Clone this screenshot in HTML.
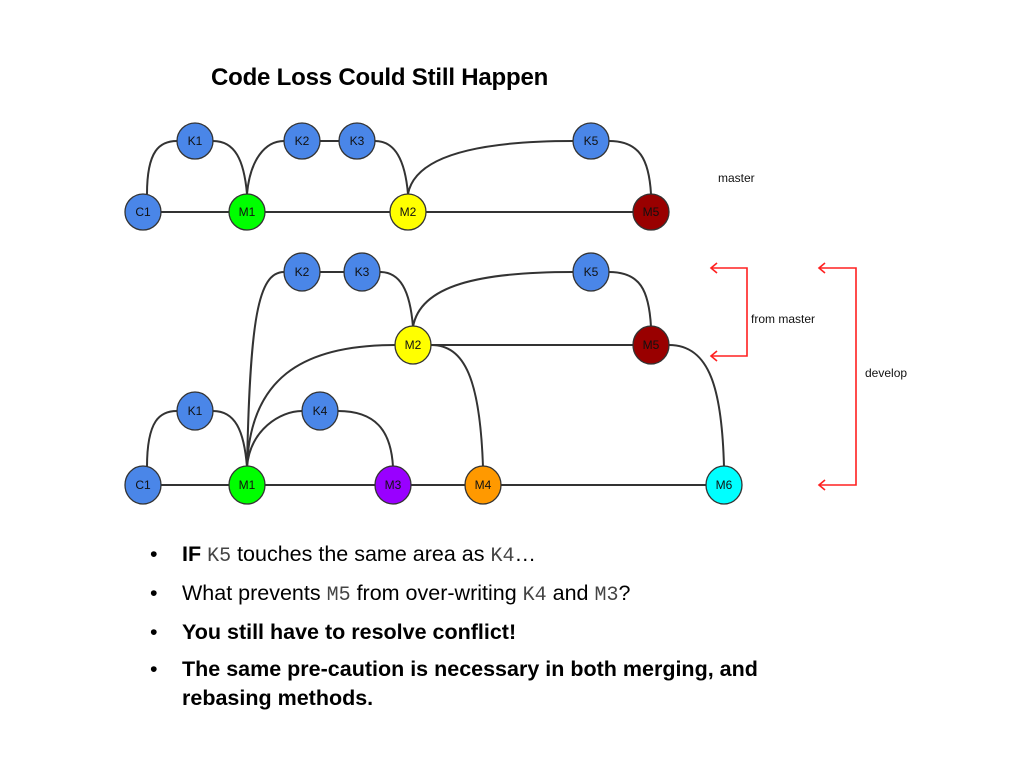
<!DOCTYPE html>
<html><head><style>
body{margin:0;width:1024px;height:768px;background:#fff;overflow:hidden;position:relative;font-family:"Liberation Sans",sans-serif}
.t{position:absolute;left:211px;top:64px;font-size:24px;font-weight:bold;letter-spacing:-0.2px}
ul{position:absolute;left:150px;top:540px;margin:0;padding:0;list-style:none;font-size:21.5px;color:#000}
li{position:relative;padding-left:32px;margin-bottom:8px;line-height:29px}
li:before{content:"•";position:absolute;left:0;top:0}
code{font-family:"Liberation Mono",monospace;color:#444;font-size:20px}
</style></head><body>
<div class="t">Code Loss Could Still Happen</div>
<svg width="1024" height="768" style="position:absolute;left:0;top:0" font-family="Liberation Sans, sans-serif" font-size="12">
<g fill="none" stroke="#333" stroke-width="2">
<line x1="143" y1="212" x2="651" y2="212"/>
<path d="M147,194 C147,150 160,141 177,141"/>
<path d="M213,141 C235,141 244,160 247,194"/>
<path d="M247,194 C250,160 265,141 284,141"/>
<line x1="320" y1="141" x2="339" y2="141"/>
<path d="M375,141 C395,141 405,160 408,194"/>
<path d="M408,194 C415,155 480,141 573,141"/>
<path d="M609,141 C640,141 649,160 651,194"/>
<line x1="143" y1="485" x2="724" y2="485"/>
<line x1="413" y1="345" x2="651" y2="345"/>
<path d="M147,467 C147,420 160,411 177,411"/>
<path d="M213,411 C235,411 244,430 247,467"/>
<path d="M247,467 C250,430 280,411 302,411"/>
<path d="M338,411 C375,411 391,430 393,467"/>
<path d="M247,467 C250,380 300,345 395,345"/>
<path d="M247,467 C250,320 258,272 284,272"/>
<line x1="320" y1="272" x2="344" y2="272"/>
<path d="M380,272 C400,272 410,290 413,327"/>
<path d="M413,327 C420,285 480,272 573,272"/>
<path d="M609,272 C640,272 649,290 651,327"/>
<path d="M431,345 C465,345 480,380 483,467"/>
<path d="M669,345 C710,345 722,390 724,467"/>
</g>
<g stroke="#333" stroke-width="1.3">
<circle cx="143" cy="212" r="18" fill="#4a86e8"/>
<circle cx="195" cy="141" r="18" fill="#4a86e8"/>
<circle cx="247" cy="212" r="18" fill="#00ff00"/>
<circle cx="302" cy="141" r="18" fill="#4a86e8"/>
<circle cx="357" cy="141" r="18" fill="#4a86e8"/>
<circle cx="408" cy="212" r="18" fill="#ffff00"/>
<circle cx="591" cy="141" r="18" fill="#4a86e8"/>
<circle cx="651" cy="212" r="18" fill="#990000"/>
<ellipse cx="302" cy="272" rx="18" ry="19" fill="#4a86e8"/>
<ellipse cx="362" cy="272" rx="18" ry="19" fill="#4a86e8"/>
<ellipse cx="591" cy="272" rx="18" ry="19" fill="#4a86e8"/>
<ellipse cx="413" cy="345" rx="18" ry="19" fill="#ffff00"/>
<ellipse cx="651" cy="345" rx="18" ry="19" fill="#990000"/>
<ellipse cx="195" cy="411" rx="18" ry="19" fill="#4a86e8"/>
<ellipse cx="320" cy="411" rx="18" ry="19" fill="#4a86e8"/>
<ellipse cx="143" cy="485" rx="18" ry="19" fill="#4a86e8"/>
<ellipse cx="247" cy="485" rx="18" ry="19" fill="#00ff00"/>
<ellipse cx="393" cy="485" rx="18" ry="19" fill="#9900ff"/>
<ellipse cx="483" cy="485" rx="18" ry="19" fill="#ff9900"/>
<ellipse cx="724" cy="485" rx="18" ry="19" fill="#00ffff"/>
</g>
<g text-anchor="middle" fill="#111">
<text x="143" y="216">C1</text><text x="195" y="145">K1</text><text x="247" y="216">M1</text>
<text x="302" y="145">K2</text><text x="357" y="145">K3</text><text x="408" y="216">M2</text>
<text x="591" y="145">K5</text><text x="651" y="216">M5</text>
<text x="302" y="276">K2</text><text x="362" y="276">K3</text><text x="591" y="276">K5</text>
<text x="413" y="349">M2</text><text x="651" y="349">M5</text>
<text x="195" y="415">K1</text><text x="320" y="415">K4</text>
<text x="143" y="489">C1</text><text x="247" y="489">M1</text><text x="393" y="489">M3</text>
<text x="483" y="489">M4</text><text x="724" y="489">M6</text>
</g>
<text x="718" y="182" fill="#111">master</text>
<text x="751" y="323" fill="#111">from master</text>
<text x="865" y="377" fill="#111">develop</text>
<g fill="none" stroke="#ff2020" stroke-width="1.6">
<polyline points="711,268 747,268 747,356 711,356"/>
<polyline points="819,268 856,268 856,485 819,485"/>
<polyline points="717,263 711,268 717,273"/>
<polyline points="717,351 711,356 717,361"/>
<polyline points="825,263 819,268 825,273"/>
<polyline points="825,480 819,485 825,490"/>
</g>
</svg>
<ul>
<li><b>IF</b> <code>K5</code> touches the same area as <code>K4</code>…</li>
<li>What prevents <code>M5</code> from over-writing <code>K4</code> and <code>M3</code>?</li>
<li><b>You still have to resolve conflict!</b></li>
<li style="width:620px"><b>The same pre-caution is necessary in both merging, and rebasing methods.</b></li>
</ul>
</body></html>
